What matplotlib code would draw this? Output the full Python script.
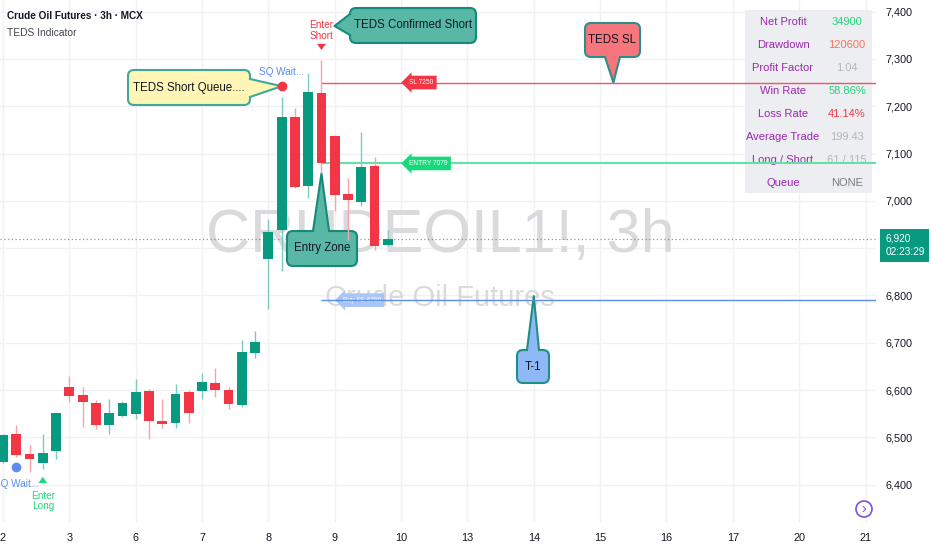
import matplotlib
matplotlib.use("Agg")
import matplotlib.pyplot as plt
import numpy as np
from matplotlib.patches import FancyBboxPatch, Polygon, Rectangle, Circle

plt.rcParams["font.family"] = ["Liberation Sans", "DejaVu Sans"]

# 3h candles, 5 bars per trading day (days 2 .. 9)
opens = [6447, 6508, 6464, 6446, 6471, 6607, 6589, 6573, 6525, 6546,
         6550, 6598, 6535, 6530, 6596, 6598, 6615, 6601, 6569, 6679,
         6878, 6938, 7178, 7032, 7227, 7137, 7014, 6998, 7074, 6906]
highs = [6506, 6526, 6484, 6508, 6552, 6630, 6607, 6578, 6582, 6577,
         6623, 6602, 6581, 6612, 6600, 6637, 6647, 6607, 6706, 6725,
         6961, 7219, 7196, 7271, 7298, 7140, 7048, 7146, 7093, 6938]
lows = [6446, 6458, 6427, 6433, 6454, 6575, 6522, 6517, 6508, 6544,
        6538, 6496, 6519, 6519, 6531, 6581, 6586, 6559, 6564, 6668,
        6771, 6852, 7028, 7005, 7058, 6979, 6917, 6988, 6896, 6905]
closes = [6505, 6463, 6454, 6466, 6551, 6588, 6575, 6527, 6551, 6573,
          6596, 6534, 6529, 6592, 6551, 6616, 6600, 6570, 6680, 6701,
          6935, 7178, 7030, 7231, 7079, 7012, 7001, 7072, 6905, 6920]

day_labels = ["2", "3", "6", "7", "8", "9", "10", "13", "14", "15", "16", "17", "20", "21"]
bars_per_day = 5
price_ticks = [6400, 6500, 6600, 6700, 6800, 6900, 7000, 7100, 7200, 7300, 7400]

sl_price = 7250
entry_price = 7079
target_price = 6790
last_price = 6920
countdown = "02:23:29"
signal_bar = 24
short_queue_bar = 21
long_queue_bar = 1
long_entry_bar = 3

stat_names = ["Net Profit", "Drawdown", "Profit Factor", "Win Rate",
              "Loss Rate", "Average Trade", "Long / Short", "Queue"]
stat_values = ["34900", "120600", "1.04", "58.86%", "41.14%", "199.43", "61 / 115", "NONE"]
stat_colors = ["#22d67b", "#f7735b", "#b2b5be", "#22d67b", "#f23645", "#b2b5be", "#b2b5be", "#787b86"]

GREEN = "#089981"
RED = "#f23645"
TXT = "#131722"

W, H = 932, 550
fig = plt.figure(figsize=(W / 100, H / 100), dpi=100)
ov = fig.add_axes([0, 0, 1, 1])
ov.set_xlim(0, W)
ov.set_ylim(H, 0)
ov.axis("off")
ov.set_zorder(-1)
P = ov.transData

ax = fig.add_axes([0, 28 / H, 876 / W, 522 / H])
ax.set_xlim(-0.226, 65.79)
ax.set_ylim(6321, 7424.5)
for s in ax.spines.values():
    s.set_visible(False)
ax.grid(color="#f0f1f4", lw=1, zorder=0)
ax.set_axisbelow(True)
ax.set_xticks(np.arange(len(day_labels)) * bars_per_day, day_labels)
# the last-price badge hides the 6,900 label, as on the original scale
ax.set_yticks(price_ticks, ["" if abs(p - last_price) < 50 else f"{p:,}" for p in price_ticks])
ax.yaxis.tick_right()
ax.tick_params(axis="both", length=0, labelsize=7.8, labelcolor=TXT)
ax.tick_params(axis="x", pad=8)
ax.tick_params(axis="y", pad=7)
xmax = ax.get_xlim()[1]


def to_px(i, p):
    x, y = ax.transData.transform((i, p))
    return x, H - y


# title
ax.text(7, 16, "Crude Oil Futures · 3h · MCX", transform=P, fontsize=7.2, fontweight="bold",
        color=TXT, va="center", zorder=8)
ax.text(7, 33, "TEDS Indicator", transform=P, fontsize=7.4, color="#434651", va="center", zorder=8)

# watermark
ax.text(440, 236, "CRUDEOIL1!, 3h", transform=P, fontsize=44, color="#dadadc",
        ha="center", va="center", zorder=1)
ax.text(440, 298, "Crude Oil Futures", transform=P, fontsize=21, color="#dadadc",
        ha="center", va="center", zorder=1)

# stats table
ax.add_patch(Rectangle((745, 10), 127, 183, transform=P, fc="#eceef1", ec="none", zorder=1.5))
for k, (name, val, col) in enumerate(zip(stat_names, stat_values, stat_colors)):
    yy = 22 + k * 23
    ax.text(783, yy, name, transform=P, fontsize=8, color="#9c27b0", ha="center",
            va="center", zorder=1.6)
    ax.text(847, yy, val, transform=P, fontsize=8, color=col, ha="center",
            va="center", zorder=1.6)

# candles
idx = np.arange(len(opens))
o = np.array(opens)
c = np.array(closes)
up = c >= o
body_col = np.where(up, GREEN, RED)
wick_col = np.where(up, "#7ccbbd", "#f7a3aa")
ax.vlines(idx, lows, highs, colors=wick_col, lw=1, zorder=5)
ax.bar(idx, np.maximum(np.abs(c - o), 2), bottom=np.minimum(o, c), width=0.74,
       color=body_col, lw=0, zorder=6)

# current price line
ax.axhline(last_price, color=GREEN, lw=0.9, ls=(0, (1, 2)), alpha=0.7, zorder=2)

# trade levels
ax.hlines(sl_price, signal_bar, xmax, color="#f7525f", lw=1, zorder=4)
ax.hlines(entry_price, signal_bar, xmax, color="#5fe3a1", lw=1.4, zorder=4)
ax.hlines(target_price, signal_bar, xmax, color="#5b8def", lw=1, zorder=4)

tag = dict(boxstyle="larrow,pad=0.5", ec="none")
ax.text(30.6, sl_price, f"SL {sl_price}", fontsize=4.8, color="white", va="center",
        bbox=dict(fc=RED, **tag), zorder=7)
ax.text(30.6, entry_price, f"ENTRY {entry_price}", fontsize=4.8, color="white", va="center",
        bbox=dict(fc="#16d97a", **tag), zorder=7)
ax.text(25.6, target_price, f"Buy FE {target_price}", fontsize=4.8, color="white", va="center",
        bbox=dict(fc="#a9c4f7", **tag), zorder=3)

# signal markers
x, y = to_px(signal_bar, highs[signal_bar])
ax.text(x, y - 29, "Enter\nShort", transform=P, fontsize=7.2, color=RED, ha="center",
        va="center", linespacing=1.1, zorder=8)
ax.annotate("", xy=(x, y - 7), xytext=(x, y - 16), xycoords=P, textcoords=P,
            arrowprops=dict(arrowstyle="simple,head_width=0.7,head_length=0.5,tail_width=0.35",
                            color=RED, lw=0, mutation_scale=9), zorder=8)

x, y = to_px(short_queue_bar, highs[short_queue_bar])
ax.plot(x, y - 11, "o", ms=6, color=RED, transform=P, zorder=8)
ax.text(x, y - 25, "SQ Wait...", transform=P, fontsize=7.2, color="#5b8def", ha="center",
        va="center", zorder=8)
dot_short = (x, y - 11)

x, y = to_px(long_queue_bar, lows[long_queue_bar])
ax.plot(x, y + 10, "o", ms=6, color="#5b8def", transform=P, zorder=8)
ax.text(x, y + 27, "SQ Wait...", transform=P, fontsize=7.2, color="#5b8def", ha="center",
        va="center", zorder=8)

x, y = to_px(long_entry_bar, lows[long_entry_bar])
ax.annotate("", xy=(x, y + 5), xytext=(x, y + 14), xycoords=P, textcoords=P,
            arrowprops=dict(arrowstyle="simple,head_width=0.7,head_length=0.5,tail_width=0.35",
                            color="#22d67b", lw=0, mutation_scale=9), zorder=8)
ax.text(x, y + 32, "Enter\nLong", transform=P, fontsize=7.2, color="#22d67b", ha="center",
        va="center", linespacing=1.1, zorder=8)


def callout(box, tip, b1, b2, side, text, fc, ec, fs=8.3, z=3):
    x0, y0, x1, y1 = box
    ax.add_patch(FancyBboxPatch((x0, y0), x1 - x0, y1 - y0, transform=P,
                                boxstyle="round,pad=0,rounding_size=6",
                                fc=fc, ec=ec, lw=1.5, zorder=z))
    dx, dy = {"left": (3, 0), "right": (-3, 0), "top": (0, 3), "bottom": (0, -3)}[side]
    ax.add_patch(Polygon([b1, tip, b2, (b2[0] + dx, b2[1] + dy), (b1[0] + dx, b1[1] + dy)],
                         closed=True, transform=P, fc=fc, ec="none", zorder=z + 0.1))
    ax.plot([b1[0], tip[0], b2[0]], [b1[1], tip[1], b2[1]], color=ec, lw=1.5,
            transform=P, zorder=z + 0.2)
    ax.text((x0 + x1) / 2, (y0 + y1) / 2, text, transform=P, fontsize=fs, color=TXT,
            ha="center", va="center", zorder=z + 0.3)


callout((128, 70, 250, 105), dot_short, (250, 79), (250, 97), "right",
        "TEDS Short Queue....", "#fff5b5", "#3fa79b")
sx, sy = to_px(signal_bar, highs[signal_bar])
callout((350, 8, 476, 43), (sx + 13, 26), (350, 14), (350, 35), "left",
        "TEDS Confirmed Short", "#58b8a5", "#17897a")
ex, ey = to_px(signal_bar, lows[signal_bar])
callout((287, 231, 357, 266), (ex, ey), (313, 231), (329, 231), "top",
        "Entry Zone", "#58b8a5", "#17897a")
lx, ly = to_px(46, sl_price)
callout((585, 23, 640, 57), (lx, ly), (605, 57), (620, 57), "bottom",
        "TEDS SL", "#f7757d", "#2a8f8a")
tx, ty = to_px(40, target_price)
callout((517, 350, 549, 383), (tx, ty - 4), (527, 350), (539, 350), "top",
        "T-1", "#8fb8f7", "#1f8e86")

# last price label on the price scale
_, py = to_px(0, last_price)
ax.add_patch(Rectangle((880, py - 10), 49, 33, transform=P, fc=GREEN, ec="none",
                       clip_on=False, zorder=9))
ax.text(886, py, f"{last_price:,}", transform=P, fontsize=7.3, color="white", va="center",
        clip_on=False, zorder=10)
ax.text(886, py + 13, countdown, transform=P, fontsize=7.3, color="white", va="center",
        clip_on=False, zorder=10)

# go-to-realtime button
ax.add_patch(Circle((864, 509), 8, transform=P, fc="white", ec="#7b4fe0", lw=1.2, zorder=9))
ax.text(864, 509, "›", transform=P, fontsize=10, color="#7b4fe0", ha="center",
        va="center", zorder=10)

fig.savefig("out.png", dpi=100)
